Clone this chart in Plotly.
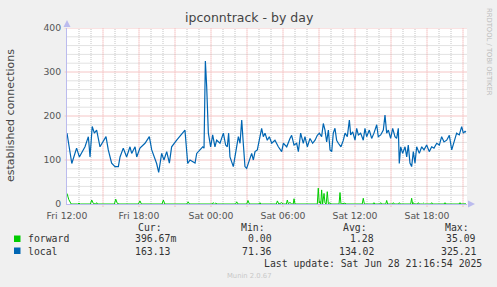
import plotly.graph_objects as go
import pandas as pd

# ---------------- data ----------------
start_time = "2025-06-27 12:00"      # Fri 12:00, left edge of the graph
span_hours = 33 + 20 / 60            # graph spans to Sat 21:20

local_hours = [
    0, 0.4, 0.8, 1.03, 1.5, 1.78, 1.92, 2.1, 2.28, 2.47,
    2.75, 3.25, 3.44, 3.72, 4.0, 4.28, 4.42, 4.69, 4.97, 5.25,
    5.39, 5.67, 5.81, 6.08, 6.5, 6.86, 7.06, 7.47, 7.64, 7.89,
    8.08, 8.31, 8.53, 8.72, 9.14, 9.36, 9.64, 9.83, 9.92, 10.06,
    10.25, 10.67, 10.81, 11.08, 11.31, 11.42, 11.53, 11.64, 11.78, 11.97,
    12.14, 12.33, 12.47, 12.75, 13.03, 13.22, 13.36, 13.47, 13.58, 13.86,
    14.0, 14.14, 14.28, 14.42, 14.56, 14.69, 14.83, 14.97, 15.11, 15.25,
    15.39, 15.53, 15.67, 15.86, 16.03, 16.22, 16.36, 16.5, 16.69, 16.86,
    17.06, 17.33, 17.61, 17.89, 18.03, 18.31, 18.58, 18.72, 18.92, 19.14,
    19.28, 19.47, 19.69, 19.83, 20.03, 20.25, 20.47, 20.67, 20.86, 21.03,
    21.22, 21.36, 21.5, 21.64, 21.78, 21.92, 22.06, 22.19, 22.33, 22.47,
    22.61, 22.83, 23.03, 23.17, 23.36, 23.53, 23.64, 23.81, 24.0, 24.14,
    24.28, 24.47, 24.69, 24.83, 24.97, 25.19, 25.39, 25.58, 25.81, 25.94,
    26.14, 26.36, 26.5, 26.64, 26.78, 26.97, 27.14, 27.33, 27.47, 27.61,
    27.69, 27.81, 27.97, 28.17, 28.31, 28.44, 28.58, 28.72, 28.86, 29.0,
    29.14, 29.36, 29.56, 29.75, 29.97, 30.19, 30.39, 30.58, 30.81, 31.03,
    31.22, 31.42, 31.64, 31.86, 32.06, 32.25, 32.47, 32.69, 32.89, 33.03,
    33.17, 33.25,
]
local_values = [
    161, 92, 127, 107, 130, 153, 107, 176, 161, 168,
    130, 153, 123, 93, 85, 85, 107, 127, 107, 130,
    115, 130, 107, 127, 138, 153, 123, 92, 72, 115,
    100, 119, 93, 130, 145, 153, 161, 168, 138, 92,
    100, 93, 115, 123, 130, 127, 325, 267, 161, 130,
    157, 130, 145, 138, 161, 134, 130, 161, 107, 85,
    107, 138, 153, 138, 191, 138, 85, 81, 93, 107,
    115, 100, 119, 123, 145, 172, 153, 161, 145, 153,
    138, 145, 130, 119, 138, 130, 149, 156, 134, 138,
    119, 161, 138, 153, 130, 149, 138, 145, 156, 161,
    153, 183, 168, 141, 168, 123, 119, 161, 172, 145,
    138, 130, 145, 161, 153, 191, 157, 164, 145, 172,
    157, 161, 145, 172, 153, 168, 149, 161, 180, 153,
    157, 168, 202, 161, 168, 149, 172, 153, 149, 172,
    92, 130, 115, 130, 107, 134, 93, 85, 119, 93,
    130, 115, 130, 123, 134, 119, 130, 127, 138, 134,
    153, 141, 145, 156, 123, 141, 161, 157, 176, 161,
    165, 163,
]

forward_hours = [
    0, 0.15, 0.35, 0.9, 1.0, 1.1,
    1.95, 2.06, 2.2, 2.4, 2.47, 2.55,
    3.95, 4.06, 4.2, 4.4,
    5.95, 6.08, 6.2,
    7.92, 8.03, 8.15,
    9.98, 10.1, 10.2,
    12.08, 12.17, 12.3, 12.4, 12.5,
    14.05, 14.14, 14.25,
    14.98, 15.08, 15.2,
    16.0, 16.08, 16.15,
    17.45, 17.53, 17.65, 17.9, 18.0,
    18.28, 18.36, 18.45, 18.58, 18.7, 18.85, 18.92, 19.0,
    20.86, 20.94, 21.02, 21.08, 21.15, 21.22, 21.3, 21.42, 21.5, 21.6, 21.69, 21.78, 21.92, 22.0,
    22.67, 22.75, 22.83, 23.17, 23.25,
    24.6, 24.69, 24.78,
    25.5, 25.58, 25.66, 26.06, 26.14, 26.22,
    26.56, 26.64, 26.72, 27.12, 27.2, 27.28, 27.62, 27.7, 27.78,
    28.64, 28.72, 28.8, 28.86, 28.94, 29.2, 29.28, 29.36, 29.62, 29.7, 29.78,
    30.31, 30.39, 30.47,
    31.42, 31.5, 31.58,
    32.67, 32.75, 32.83,
    33.25,
]
forward_values = [
    24, 10, 0, 0, 2, 0,
    0, 9, 1, 0, 3, 0,
    0, 11, 1, 0,
    0, 7, 0,
    0, 9, 0,
    0, 5, 0,
    0, 3, 0, 2, 0,
    0, 5, 0,
    0, 8, 0,
    0, 3, 0,
    0, 7, 0, 3, 0,
    0, 9, 0, 4, 0, 0, 12, 0,
    0, 36, 2, 6, 0, 32, 0, 24, 2, 0, 28, 0, 3, 0,
    0, 26, 0, 2, 0,
    0, 13, 0,
    0, 3, 0, 0, 3, 0,
    0, 8, 0, 0, 3, 0, 0, 3, 0,
    0, 13, 0, 3, 0, 0, 3, 0, 0, 2, 0,
    0, 3, 0,
    0, 3, 0,
    0, 3, 0,
    0.4,
]

series_names = ["forward", "local"]
series_colors = ["#00CC00", "#0066B3"]
stat_headers = ["Cur:", "Min:", "Avg:", "Max:"]
forward_stats = ["396.67m", "0.00", "1.28", "35.09"]
local_stats = ["163.13", "71.36", "134.02", "325.21"]

tick_hours = [0, 3, 6, 9, 12, 15, 18, 21, 24, 27, 30, 33]
tick_labels = ["Fri 12:00", "", "Fri 18:00", "", "Sat 00:00", "", "Sat 06:00", "",
               "Sat 12:00", "", "Sat 18:00", ""]
minor_hours = [h for h in range(0, 34) if h % 3 != 0]
y_major = [0, 100, 200, 300, 400]
y_minor = [v for v in range(20, 400, 20) if v % 100 != 0]

title_text = "ipconntrack - by day"
y_title = "established connections"
last_update = "Last update: Sat Jun 28 21:16:54 2025"
watermark = "RRDTOOL / TOBI OETIKER"
munin_ver = "Munin 2.0.67"

# ---------------- build ----------------
base = pd.Timestamp(start_time)
def to_t(hours):
    return list(base + pd.to_timedelta(pd.Series(hours, dtype=float), unit="h"))

W, H = 497, 287
L, R, T, B = 67, 467, 28, 204

def px(x):
    return (x - L) / (R - L)

def py(y):
    return (B - y) / (B - T)

fig = go.Figure()

MAJ = "#EE9A9A"
MIN = "#C4C4C4"
MAJ_H = "#F5C6C6"   # horizontal dotted lines rendered as blended solid lines
MIN_H = "#E2E2E2"
AX = "#BBBBEE"
DASH = "1px,1px"

# grid lines (drawn below the traces)
for h in minor_hours:
    t = to_t([h])[0]
    fig.add_shape(type="line", xref="x", yref="paper", x0=t, x1=t, y0=0, y1=1,
                  line=dict(color=MIN, width=1, dash=DASH), layer="below")
for v in y_minor:
    fig.add_shape(type="line", xref="paper", yref="y", x0=0, x1=1, y0=v, y1=v,
                  line=dict(color=MIN_H, width=1), layer="below")
for h in tick_hours[1:]:
    t = to_t([h])[0]
    fig.add_shape(type="line", xref="x", yref="paper", x0=t, x1=t, y0=-0.015, y1=1,
                  line=dict(color=MAJ, width=1, dash=DASH), layer="below")
for v in y_major[1:]:
    fig.add_shape(type="line", xref="paper", yref="y", x0=-0.006, x1=1, y0=v, y1=v,
                  line=dict(color=MAJ_H, width=1), layer="below")

fig.add_trace(go.Scatter(x=to_t(forward_hours), y=forward_values, mode="lines",
                         line=dict(color=series_colors[0], width=1),
                         showlegend=False, hoverinfo="skip"))
fig.add_trace(go.Scatter(x=to_t(local_hours), y=local_values, mode="lines",
                         line=dict(color=series_colors[1], width=1.2),
                         showlegend=False, hoverinfo="skip"))

tickfont = dict(family="DejaVu Sans", size=9.3, color="#555555")

fig.update_layout(
    width=W, height=H,
    margin=dict(l=L, r=W - R, t=T, b=H - B, pad=0),
    paper_bgcolor="#F0F0F0", plot_bgcolor="#FFFFFF",
    showlegend=False,
    xaxis=dict(
        type="date",
        range=[base, base + pd.Timedelta(hours=span_hours)],
        tickmode="array",
        tickvals=to_t(tick_hours),
        ticktext=tick_labels,
        tickfont=tickfont,
        showgrid=False,
        ticks="outside", ticklen=3, tickcolor="rgba(255,255,255,0)",
        showline=True, linecolor=AX, linewidth=1,
        zeroline=False, fixedrange=True,
    ),
    yaxis=dict(
        range=[0, 400],
        tickmode="array", tickvals=y_major,
        tickfont=tickfont,
        showgrid=False,
        ticks="outside", ticklen=3, tickcolor="rgba(255,255,255,0)",
        showline=True, linecolor=AX, linewidth=1,
        zeroline=False, fixedrange=True,
    ),
)

# axis arrows
fig.add_shape(type="path", xref="paper", yref="paper",
              path=f"M {px(63.5)} {py(27)} L {px(70.5)} {py(27)} L {px(67)} {py(20)} Z",
              fillcolor=AX, line=dict(width=0))
fig.add_shape(type="path", xref="paper", yref="paper",
              path=f"M {px(468)} {py(200.5)} L {px(468)} {py(207.5)} L {px(475)} {py(204)} Z",
              fillcolor=AX, line=dict(width=0))

def ann(text, x, y, size, color="#444444", family="DejaVu Sans", xanchor="center",
        angle=0):
    fig.add_annotation(text=text, x=px(x), y=py(y), xref="paper", yref="paper",
                       showarrow=False, xanchor=xanchor, yanchor="middle",
                       textangle=angle, borderpad=0,
                       font=dict(family=family, size=size, color=color))

ann(title_text, 249, 18, 12.5, "#444444")
ann(y_title, 11, 115, 11, "#444444", angle=-90)
ann(watermark, 489, 52, 6.8, "#BBBBBB", angle=90)

MONO = "DejaVu Sans Mono"
LS = 9.8
LC = "#333333"
header_right = [163, 266, 368, 470]
for h, xr in zip(stat_headers, header_right):
    ann(h, xr, 227, LS, LC, MONO, "right")

rows_y = [239, 251]
all_stats = [forward_stats, local_stats]
value_x = [(134, "left"), (273, "right"), (375, "right"), (477, "right")]
for name, color, stats, yy in zip(series_names, series_colors, all_stats, rows_y):
    fig.add_shape(type="rect", xref="paper", yref="paper",
                  x0=px(14), x1=px(20.5), y0=py(yy + 3), y1=py(yy - 3.5),
                  fillcolor=color, line=dict(width=0))
    ann(name, 27, yy, LS, LC, MONO, "left")
    for s, (xx, anc) in zip(stats, value_x):
        ann(s, xx, yy, LS, LC, MONO, anc)

ann(last_update, 483, 263, LS, LC, MONO, "right")
ann(munin_ver, 249, 276, 6.8, "#C8C8C8")

fig.write_html("out.html")
